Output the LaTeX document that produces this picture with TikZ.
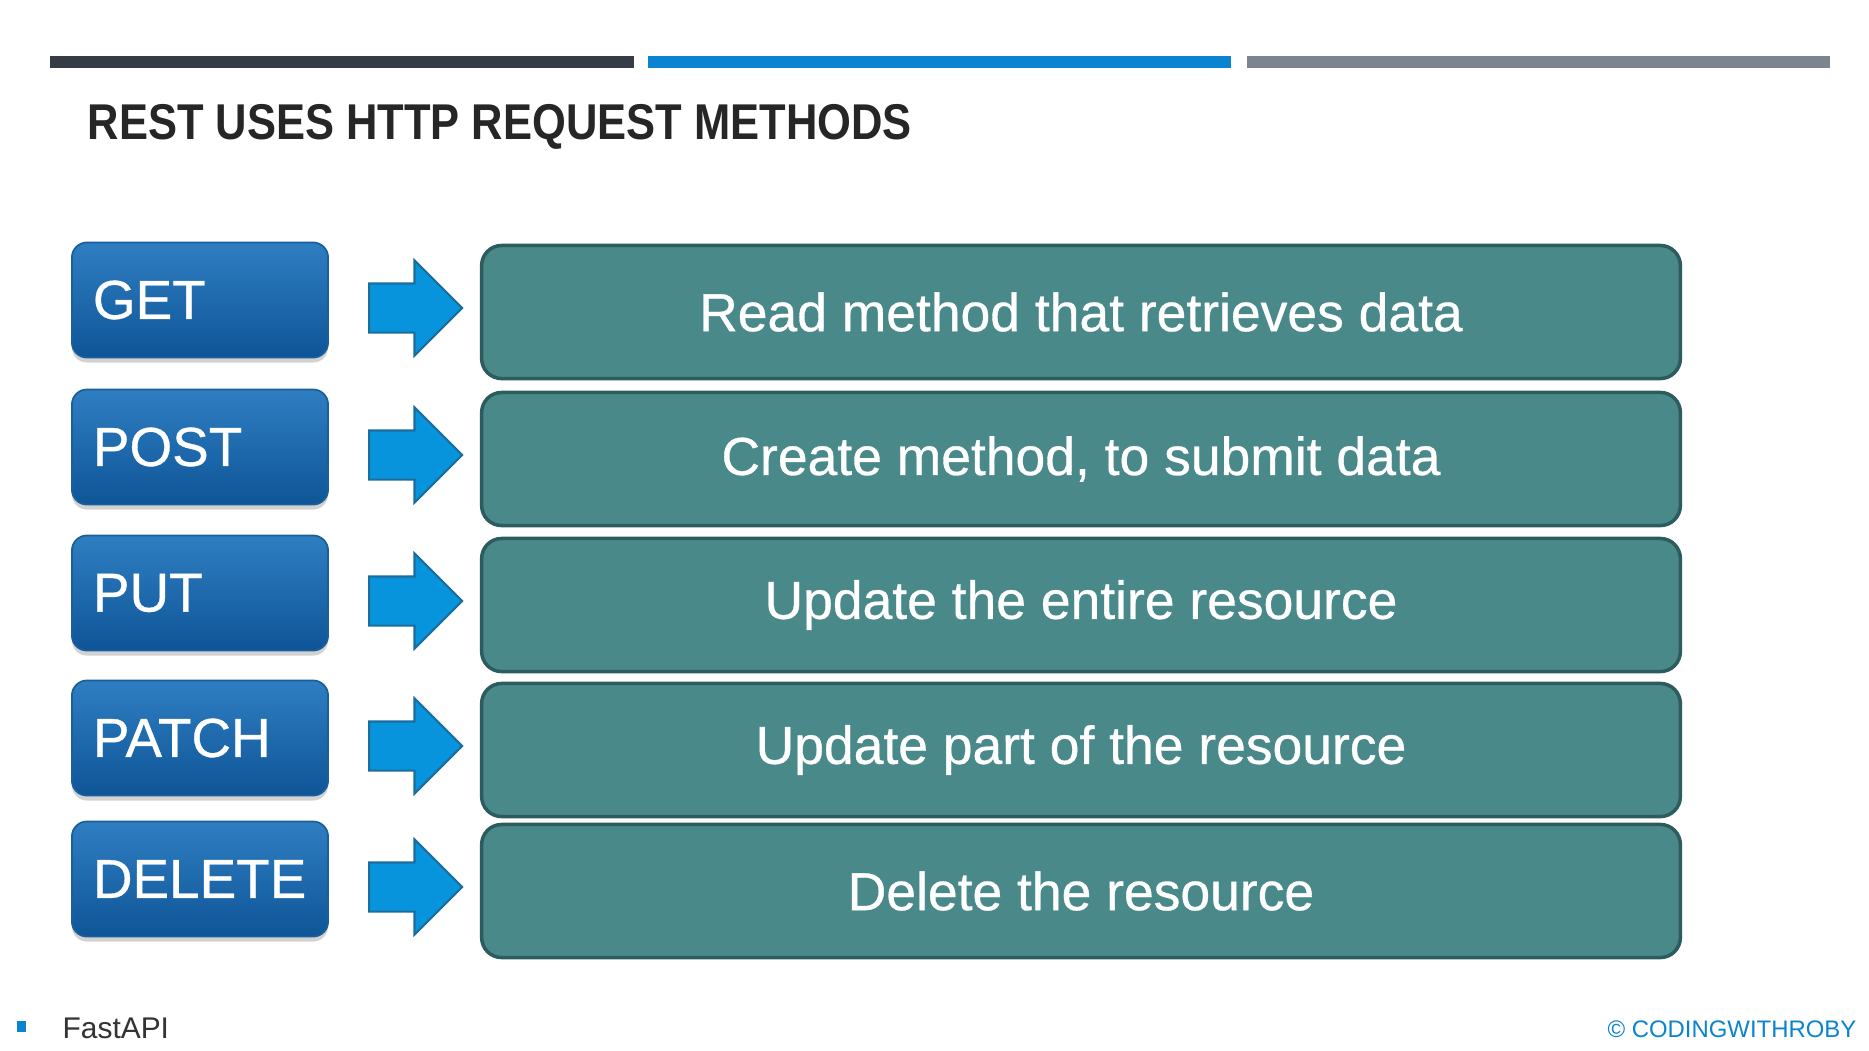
\documentclass[tikz,border=0pt]{standalone}
\usepackage{fontspec}
\setmainfont{Liberation Sans}
\newfontface\boxface{Liberation Sans}[FakeBold=0.6]
\usetikzlibrary{shapes.arrows,shadows}
\definecolor{bardark}{HTML}{363C45}
\definecolor{barblue}{HTML}{0A84D0}
\definecolor{bargray}{HTML}{7C8490}
\definecolor{titlegray}{HTML}{262626}
\definecolor{btntop}{HTML}{2F7EC2}
\definecolor{btnbot}{HTML}{0E5597}
\definecolor{btnline}{HTML}{1B5E9C}
\definecolor{arrowfill}{HTML}{0894DC}
\definecolor{arrowline}{HTML}{1A6E9E}
\definecolor{tealfill}{HTML}{4A898A}
\definecolor{tealline}{HTML}{2D5C5E}
\definecolor{footgray}{HTML}{333333}
\begin{document}
\begin{tikzpicture}[x=0.01cm,y=-0.01cm,
  methodbox/.style={rounded corners=0.15cm, draw=btnline, line width=0.5pt,
    top color=btntop, bottom color=btnbot, text=white,
    minimum height=1.15cm, text width=2.14cm, inner xsep=0.21cm, align=left,
    font=\boxface\fontsize{15.6pt}{18pt}\selectfont,
    drop shadow={opacity=0.35, shadow xshift=0cm, shadow yshift=-0.05cm}},
  blockarrow/.style={single arrow, draw=arrowline, fill=arrowfill, line width=0.6pt,
    minimum width=0.94cm, minimum height=0.93cm, single arrow head extend=0.23cm,
    inner xsep=0pt, inner ysep=0.235cm, anchor=tail},
  descbox/.style={rounded corners=0.2cm, draw=tealline, line width=1pt,
    fill=tealfill, text=white, minimum width=11.98cm, minimum height=1.33cm,
    font=\boxface\fontsize{15.2pt}{18pt}\selectfont}]
\useasboundingbox (0,0) rectangle (1869,1050);
\fill[white] (0,0) rectangle (1869,1050);

\fill[bardark] (50,56) rectangle (634,68);
\fill[barblue] (648,56) rectangle (1231,68);
\fill[bargray] (1247,56) rectangle (1830,68);
\node[anchor=base west, inner sep=0pt, text=titlegray] (title) at (87,139)
  {\scalebox{0.865}[1]{\fontsize{14.3pt}{16pt}\selectfont\bfseries REST USES HTTP REQUEST METHODS}};

\node[methodbox] (get) at (200,300) {GET};
\node[blockarrow] (getarrow) at (368,308) {};
\node[descbox] (getdesc) at (1081,312) {Read method that retrieves data};

\node[methodbox] (post) at (200,447) {POST};
\node[blockarrow] (postarrow) at (368,455) {};
\node[descbox] (postdesc) at (1081,459) {Create method, to submit data};

\node[methodbox] (put) at (200,593) {PUT};
\node[blockarrow] (putarrow) at (368,601) {};
\node[descbox] (putdesc) at (1081,605) {Update the entire resource};

\node[methodbox] (patch) at (200,738) {PATCH};
\node[blockarrow] (patcharrow) at (368,746) {};
\node[descbox] (patchdesc) at (1081,750) {Update part of the resource};

\node[methodbox] (delete) at (200,879) {DELETE};
\node[blockarrow] (deletearrow) at (368,887) {};
\node[descbox] (deletedesc) at (1081,891) {Delete the resource};

\fill[barblue] (17,1021) rectangle (26,1032);
\node[anchor=base west, inner sep=0pt, text=footgray] (footer) at (62,1038)
  {\fontsize{8.5pt}{10pt}\selectfont FastAPI};
\node[anchor=base east, inner sep=0pt, text=barblue] (credit) at (1857,1037)
  {\fontsize{6.8pt}{8pt}\selectfont \textcopyright{} CODINGWITHROBY};
\end{tikzpicture}
\end{document}
